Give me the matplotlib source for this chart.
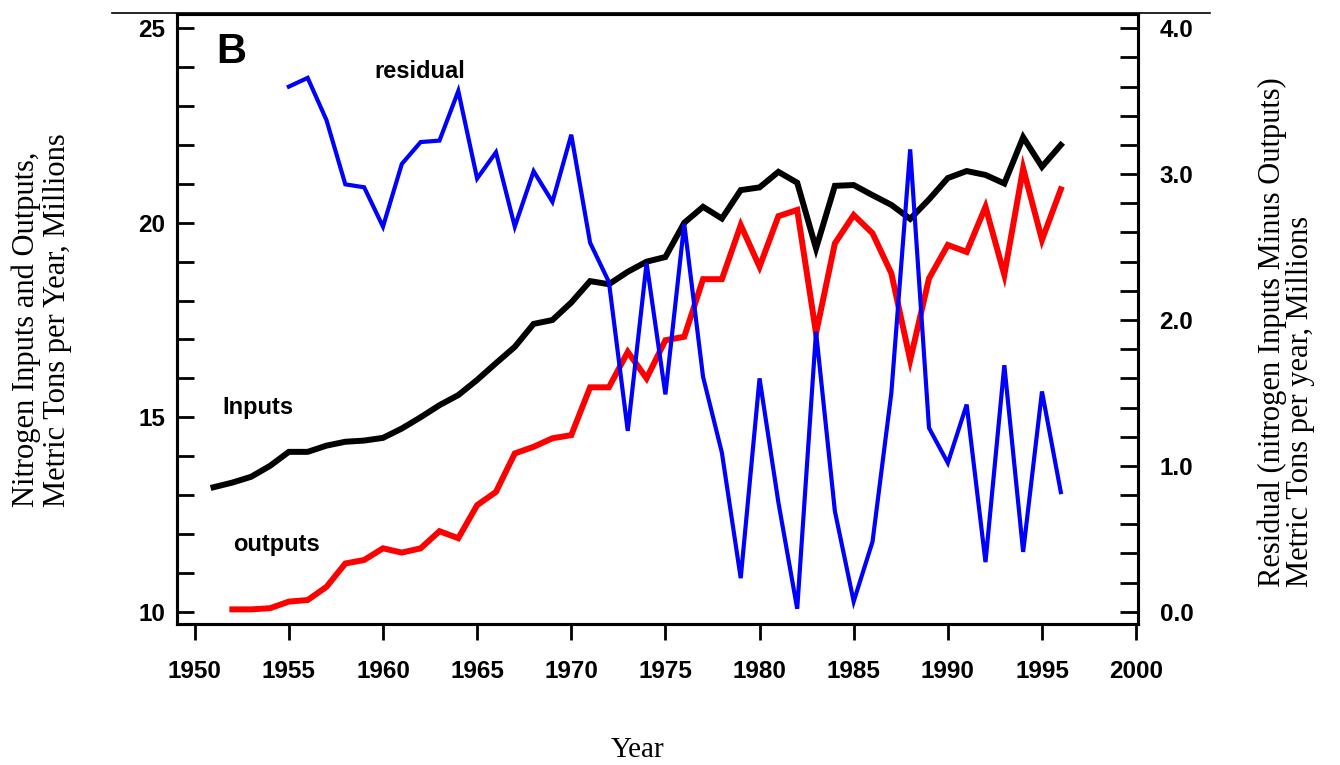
import matplotlib
matplotlib.use("Agg")
import matplotlib.pyplot as plt
from matplotlib.lines import Line2D
from matplotlib.ticker import MultipleLocator

# ---------------- data ----------------
input_years = list(range(1951, 1997))
inputs = [13.20, 13.32, 13.47, 13.75, 14.11, 14.11, 14.27, 14.37, 14.40, 14.47,
          14.71, 15.00, 15.31, 15.57, 15.96, 16.39, 16.81, 17.40, 17.50, 17.95,
          18.50, 18.42, 18.74, 19.00, 19.12, 20.00, 20.41, 20.11, 20.84, 20.91,
          21.31, 21.03, 19.34, 20.95, 20.97, 20.71, 20.46, 20.10, 20.60, 21.15,
          21.33, 21.23, 21.01, 22.20, 21.44, 22.00]

output_years = list(range(1952, 1997))
outputs = [10.06, 10.06, 10.09, 10.26, 10.30, 10.64, 11.24, 11.33, 11.63, 11.52,
           11.63, 12.07, 11.89, 12.74, 13.08, 14.07, 14.24, 14.46, 14.54, 15.77,
           15.77, 16.68, 16.00, 16.98, 17.07, 18.55, 18.55, 19.94, 18.87, 20.17,
           20.33, 17.16, 19.47, 20.20, 19.73, 18.70, 16.47, 18.57, 19.43, 19.25,
           20.41, 18.66, 21.40, 19.56, 20.86]

residual_years = list(range(1955, 1997))
residual = [3.60, 3.66, 3.37, 2.93, 2.91, 2.64, 3.07, 3.22, 3.23, 3.57,
            2.97, 3.15, 2.64, 3.02, 2.81, 3.27, 2.53, 2.26, 1.24, 2.39,
            1.49, 2.66, 1.61, 1.09, 0.23, 1.60, 0.75, 0.02, 1.92, 0.69,
            0.07, 0.48, 1.50, 3.17, 1.26, 1.02, 1.42, 0.34, 1.69, 0.41,
            1.51, 0.82]

x_ticks = [1950, 1955, 1960, 1965, 1970, 1975, 1980, 1985, 1990, 1995, 2000]
left_ticks = [10, 15, 20, 25]
right_ticks = [0.0, 1.0, 2.0, 3.0, 4.0]

# ---------------- figure ----------------
W, H = 1340, 765
fig = plt.figure(figsize=(W / 100, H / 100), dpi=100)
fig.patch.set_facecolor("white")

L, R, B, T = 177, 1138, 623.5, 14
ax = fig.add_axes([L / W, 1 - B / H, (R - L) / W, (B - T) / H])
ax2 = ax.twinx()

tick_font = dict(family="Liberation Sans", weight="bold", size=17.5)

ax.plot(input_years, inputs, color="black", lw=4.3, solid_joinstyle="miter")
ax.plot(output_years, outputs, color="#ff0000", lw=4.3, solid_joinstyle="miter")
ax2.plot(residual_years, residual, color="#0000ff", lw=3.0, solid_joinstyle="miter")

ax.set_xlim(1949.06, 2000.1)
ax.set_ylim(9.697, 25.368)
ax2.set_ylim(-0.0809, 4.098)

ax.set_xticks(x_ticks)
ax.set_xticklabels([str(v) for v in x_ticks], fontdict=tick_font)
ax.set_yticks(left_ticks)
ax.set_yticklabels([str(v) for v in left_ticks], fontdict=tick_font)
ax.yaxis.set_minor_locator(MultipleLocator(1))
ax2.set_yticks(right_ticks)
ax2.set_yticklabels([f"{v:.1f}" for v in right_ticks], fontdict=tick_font)
ax2.yaxis.set_minor_locator(MultipleLocator(0.2))

ax.tick_params(axis="x", which="major", direction="out", length=11.5, width=2.0,
               pad=15, top=False)
ax.tick_params(axis="y", which="both", direction="in", length=12.5, width=2.0,
               pad=8.6, right=False)
ax2.tick_params(axis="y", which="both", direction="in", length=13, width=2.0,
                pad=15.5, left=False)

for a in (ax, ax2):
    for s in a.spines.values():
        s.set_linewidth(2.2)

# thin frame line across the top, extending beyond the axes
fig.add_artist(Line2D([112 / W, 1210 / W], [1 - 13 / H, 1 - 13 / H],
                      color="black", lw=1.2))

# annotations
ann_font = dict(family="Liberation Sans", weight="bold")
ax.text(1951.17, 24.11, "B", fontsize=30, ha="left", va="baseline", **ann_font)
ax.text(1959.56, 23.72, "residual", fontsize=17, ha="left", va="baseline", **ann_font)
ax.text(1951.49, 15.08, "Inputs", fontsize=17, ha="left", va="baseline", **ann_font)
ax.text(1952.02, 11.56, "outputs", fontsize=17, ha="left", va="baseline", **ann_font)

# axis labels (serif)
lab_font = dict(family="Liberation Serif", size=22)
fig.text(42 / W, 1 - 320 / H,
         "Nitrogen Inputs and Outputs,\nMetric Tons per Year, Millions",
         rotation=90, ha="center", va="center", multialignment="left",
         linespacing=1.1, **lab_font)
fig.text(1286 / W, 1 - 332 / H,
         "Residual (nitrogen Inputs Minus Outputs)\nMetric Tons per year, Millions",
         rotation=90, ha="center", va="center", multialignment="left",
         linespacing=0.95, **lab_font)
fig.text(638 / W, 1 - 750 / H, "Year", ha="center", va="center",
         family="Liberation Serif", size=21)

fig.savefig("out.png", dpi=100, facecolor="white")
